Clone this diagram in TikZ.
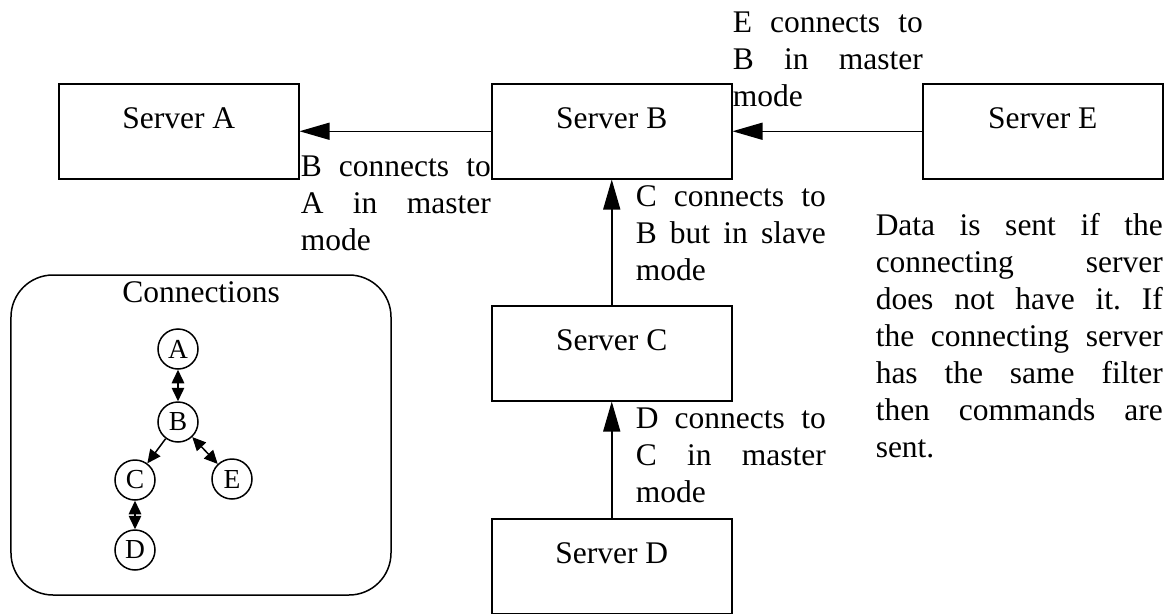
\documentclass[tikz,border=0pt]{standalone}
\usepackage{fontspec}
\setmainfont{Liberation Serif}
\usetikzlibrary{arrows.meta}

\begin{document}
\fontsize{12.6}{14.8}\selectfont
\hyphenpenalty=10000
\frenchspacing
\begin{tikzpicture}[x=0.4pt, y=-0.4pt, line width=0.6pt,
    server/.style={draw, anchor=north west, inner sep=0pt, minimum width=96pt, text height=18pt, text depth=20pt},
    remark/.style={anchor=base west, inner sep=0pt, text width=76pt, align=justify},
    peer/.style={draw, circle, inner sep=0pt, minimum size=16pt, font=\fontsize{11}{12}\selectfont},
    bigtip/.style={-{Triangle[length=12pt, width=6.8pt]}},
    twotip/.style={{Triangle[length=5.4pt, width=5pt]}-{Triangle[length=5.4pt, width=5pt]}},
    onetip/.style={-{Triangle[length=5.4pt, width=5pt]}}]
    \useasboundingbox (0, 0) rectangle (1169, 614);

    % servers
    \node[server] (sa) at (58, 83) {Server A};
    \node[server] (sb) at (491, 83) {Server B};
    \node[server] (se) at (922, 83) {Server E};
    \node[server] (sc) at (491, 305) {Server C};
    \node[server] (sd) at (491, 518) {Server D};

    \draw[bigtip] (sb) -- (sa);
    \draw[bigtip] (se) -- (sb);
    \draw[bigtip] (sc) -- (sb);
    \draw[bigtip] (sd) -- (sc);

    \node[remark] (lab_ba) at (300, 176) {B connects to A in master mode};
    \node[remark] (lab_eb) at (732, 32) {E connects to B in master mode};
    \node[remark] (lab_cb) at (635, 206) {C connects to B but in slave mode};
    \node[remark] (lab_dc) at (635, 428) {D connects to C in master mode};
    \node[remark, text width=114.8pt] (info) at (875, 235) {Data is sent if the\linebreak{} connecting server\linebreak{} does not have it. If\linebreak{} the connecting server\linebreak{} has the same filter\linebreak{} then commands are\linebreak{} sent.};

    % connections overview
    \node[draw, rounded corners=16.8pt, minimum width=152pt, minimum height=128pt, inner sep=0pt] (conn) at (201, 435) {};
    \node[anchor=base] (conn_title) at (201, 302) {Connections};

    \node[peer] (pa) at (178, 349) {A};
    \node[peer] (pb) at (178, 422) {B};
    \node[peer] (pc) at (135, 480) {C};
    \node[peer] (pe) at (232, 479) {E};
    \node[peer] (pd) at (135, 550) {D};

    \draw[twotip] (pa) -- (pb);
    \draw[onetip] (pb) -- (pc);
    \draw[twotip] (pb) -- (pe);
    \draw[twotip] (pc) -- (pd);

\end{tikzpicture}
\end{document}
